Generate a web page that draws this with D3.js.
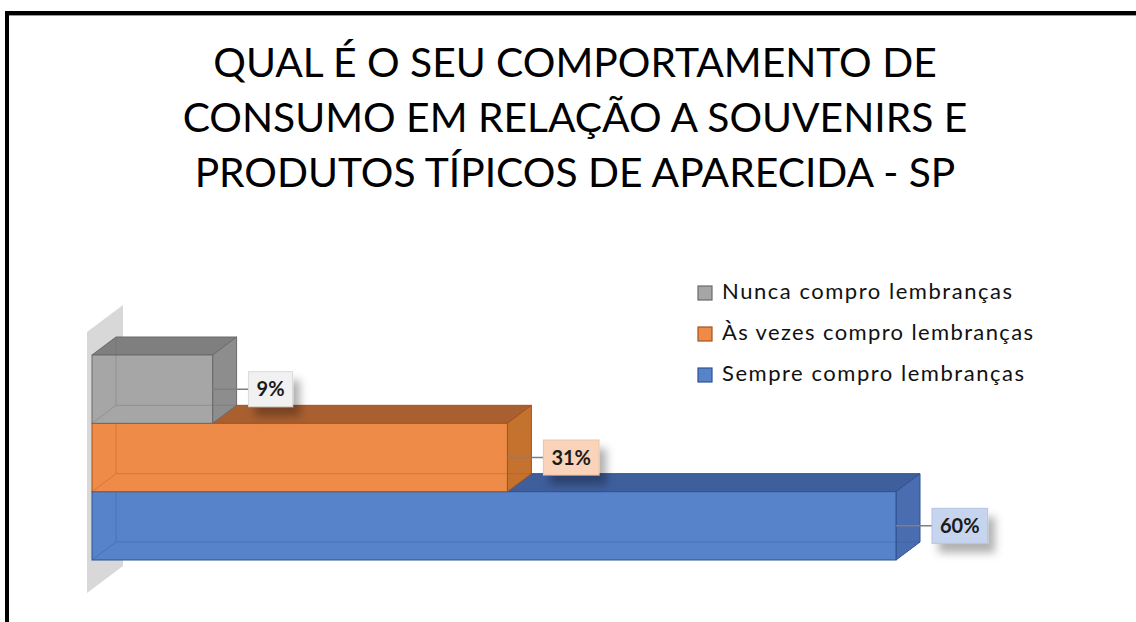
<!DOCTYPE html>
<html>
<head>
<meta charset="utf-8">
<script src="https://cdn.jsdelivr.net/npm/d3@7"></script>
<style>
  body { margin: 0; background: #fff; }
  svg { display: block; font-family: Lato, "Open Sans", sans-serif; }
</style>
</head>
<body>
<div id="Area"></div>
<script>
// chart data
var titleLines = ["QUAL É O SEU COMPORTAMENTO DE", "CONSUMO EM RELAÇÃO A SOUVENIRS E", "PRODUTOS TÍPICOS DE APARECIDA - SP"];
var categories = ["Nunca compro lembranças", "Às vezes compro lembranças", "Sempre compro lembranças"];
var values = [9, 31, 60];
var valueLabels = ["9%", "31%", "60%"];

// colours per series: front, top, side, edge, label box, label border
var palette = [
  { front: "#a6a6a6", top: "#7f7f7f", side: "#8d8d8d", edge: "#6a6a6a", box: "#f1f1f1", boxEdge: "#d9d9d9" },
  { front: "#ee8b48", top: "#a95f30", side: "#c6722f", edge: "#a5521b", box: "#f9d4ba", boxEdge: "#f0c3a2" },
  { front: "#5783cb", top: "#3e5e9c", side: "#4a6db2", edge: "#2f528f", box: "#c7d4ee", boxEdge: "#b2c4e6" }
];

var width = 1136, height = 622;
var depth = { dx: 24, dy: -18 };

var svg = d3.select("#Area").append("svg")
  .attr("width", width)
  .attr("height", height);

// soft shadow for data labels
var defs = svg.append("defs");
defs.append("filter")
  .attr("id", "shadow")
  .attr("x", "-30%").attr("y", "-30%").attr("width", "180%").attr("height", "200%")
  .append("feDropShadow")
  .attr("dx", 7).attr("dy", 9)
  .attr("stdDeviation", 4)
  .attr("flood-color", "#000")
  .attr("flood-opacity", 0.3);

// frame (only the top and left edges are inside the picture)
svg.append("path")
  .attr("d", "M7," + height + " L7,13 L" + width + ",13")
  .attr("fill", "none")
  .attr("stroke", "#000")
  .attr("stroke-width", 4);
svg.append("line")
  .attr("x1", 9).attr("x2", width).attr("y1", 15.5).attr("y2", 15.5)
  .attr("stroke", "#9a9a9a").attr("stroke-width", 1);

// title
var title = svg.append("g").attr("class", "title");
title.selectAll("text")
  .data(titleLines)
  .enter()
  .append("text")
  .attr("x", 575)
  .attr("y", function (d, i) { return 77 + i * 55; })
  .attr("text-anchor", "middle")
  .attr("fill", "#000")
  .style("font-size", "36px")
  .text(function (d) { return d; });
// fit the font size so the middle line is as wide as in the picture
var w2 = title.selectAll("text").nodes()[1].getComputedTextLength();
title.selectAll("text").style("font-size", (36 * 785 / w2) + "px");

// scales
var x = d3.scaleLinear()
  .domain([0, 60])
  .range([92, 896]);
var y = d3.scaleBand()
  .domain(categories)
  .range([355, 560])
  .padding(0);

// side wall of the 3D plot
var wx0 = x(0) - 5, wx1 = x(0) + 31;
var wy0 = y.range()[0] - 23, wy1 = y.range()[1] + 33;
var wdy = (wx1 - wx0) * depth.dy / depth.dx;
svg.append("path")
  .attr("d", "M" + wx0 + "," + wy0 + " L" + wx1 + "," + (wy0 + wdy) +
    " L" + wx1 + "," + (wy1 + wdy) + " L" + wx0 + "," + wy1 + " Z")
  .attr("fill", "#d8d8d8");

function poly(pts) {
  return "M" + pts.map(function (p) { return p[0] + "," + p[1]; }).join(" L") + " Z";
}

// bars, drawn from the bottom one up so the upper boxes sit in front
var order = d3.range(categories.length).reverse();
order.forEach(function (i) {
  var c = palette[i];
  var x0 = x(0), x1 = x(values[i]);
  var y0 = y(categories[i]), y1 = y0 + y.bandwidth();
  var dx = depth.dx, dy = depth.dy;
  var g = svg.append("g").attr("class", "bar");

  // top face
  g.append("path")
    .attr("d", poly([[x0, y0], [x1, y0], [x1 + dx, y0 + dy], [x0 + dx, y0 + dy]]))
    .attr("fill", c.top).attr("stroke", c.edge).attr("stroke-width", 1);
  // right face
  g.append("path")
    .attr("d", poly([[x1, y0], [x1 + dx, y0 + dy], [x1 + dx, y1 + dy], [x1, y1]]))
    .attr("fill", c.side).attr("stroke", c.edge).attr("stroke-width", 1);
  // front face
  g.append("rect")
    .attr("x", x0).attr("y", y0)
    .attr("width", x1 - x0).attr("height", y1 - y0)
    .attr("fill", c.front).attr("stroke", c.edge).attr("stroke-width", 1);
  // hidden edges show through the see-through box
  g.append("path")
    .attr("d", "M" + (x0 + dx) + "," + (y0 + dy) + " L" + (x0 + dx) + "," + (y1 + dy) +
      " L" + (x1 + dx) + "," + (y1 + dy) + " M" + x0 + "," + y1 + " L" + (x0 + dx) + "," + (y1 + dy))
    .attr("fill", "none").attr("stroke", c.edge).attr("stroke-opacity", 0.35).attr("stroke-width", 1);
});

// data labels with leader lines
categories.forEach(function (cat, i) {
  var c = palette[i];
  var xe = x(values[i]);
  var ym = y(cat) + y.bandwidth() / 2;
  var bx = xe + 36;
  var lab = svg.append("g").attr("class", "label");

  lab.append("line")
    .attr("x1", xe).attr("x2", bx)
    .attr("y1", ym).attr("y2", ym)
    .attr("stroke", "#7f7f7f").attr("stroke-width", 1.5);

  var box = lab.append("rect");
  var t = lab.append("text")
    .attr("y", ym + 7)
    .attr("fill", "#1a1a1a")
    .style("font-size", "20px")
    .style("font-weight", "bold")
    .text(valueLabels[i]);
  var tw = t.node().getComputedTextLength();
  t.attr("x", bx + 8);
  box.attr("x", bx).attr("y", ym - 17.5)
    .attr("width", tw + 16).attr("height", 35)
    .attr("fill", c.box).attr("stroke", c.boxEdge).attr("stroke-width", 1)
    .attr("filter", "url(#shadow)");
});

// legend
var legendWidths = [290, 311, 302];
var legend = svg.append("g").attr("class", "legend");
categories.forEach(function (cat, i) {
  var c = palette[i];
  var base = 299 + i * 41;
  legend.append("rect")
    .attr("x", 698).attr("y", base - 13)
    .attr("width", 14).attr("height", 14)
    .attr("fill", c.front).attr("stroke", c.edge).attr("stroke-width", 1.2);
  legend.append("text")
    .attr("x", 722).attr("y", base)
    .attr("fill", "#111")
    .attr("textLength", legendWidths[i])
    .attr("lengthAdjust", "spacing")
    .style("font-size", "22px")
    .text(cat);
});
</script>
</body>
</html>
